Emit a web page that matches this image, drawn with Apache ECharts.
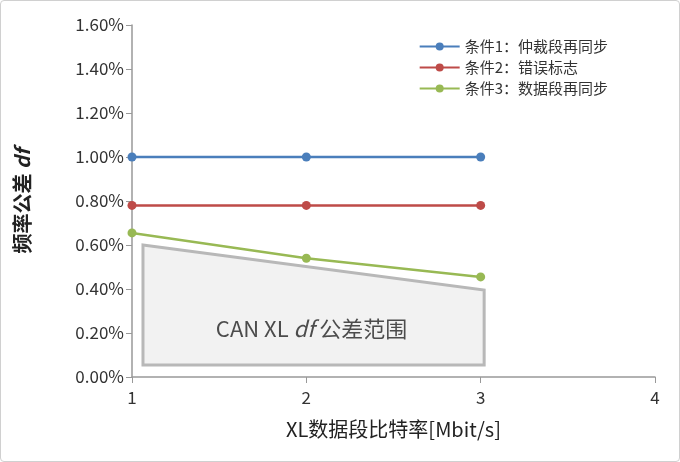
<!DOCTYPE html>
<html><head><meta charset="utf-8">
<script src="https://cdn.jsdelivr.net/npm/echarts@6/dist/echarts.min.js"></script>
<style>html,body{margin:0;padding:0;background:#fff}#c{width:678px;height:460px;border:1px solid #d0d0d0;border-radius:4px}</style>
</head><body><div id="c"></div>
<script>
// 数据
const xRates = [1, 2, 3];
const arbSync = [1.00, 1.00, 1.00];     // 条件1
const errFlag = [0.78, 0.78, 0.78];     // 条件2
const dataSync = [0.655, 0.54, 0.455];  // 条件3
const tolX = [1.063, 3.02, 3.02, 1.063];
const tolY = [0.60, 0.395, 0.055, 0.055];
const font = '"Noto Sans CJK SC", "Noto Sans", sans-serif';

const mk = (name, color, vals) => ({
    name, type: 'line', data: xRates.map((x, i) => [x, vals[i]]),
    symbol: 'circle', symbolSize: 9, z: 5,
    itemStyle: { color }, lineStyle: { color, width: 2.5 }
});

let chart = echarts.init(document.getElementById('c'));
chart.setOption({
    animation: false,
    textStyle: { fontFamily: font },
    grid: { left: 131, right: 24, top: 24, bottom: 84 },
    legend: {
        right: 66, top: 33, orient: 'vertical', itemGap: 6, itemWidth: 40, itemHeight: 10,
        textStyle: { fontSize: 15, color: '#333' },
        data: ['条件1：仲裁段再同步', '条件2：错误标志', '条件3：数据段再同步']
    },
    xAxis: {
        type: 'value', min: 1, max: 4, interval: 1,
        name: 'XL数据段比特率[Mbit/s]', nameLocation: 'middle', nameGap: 42,
        nameTextStyle: { fontSize: 20, color: '#222' },
        axisLine: { lineStyle: { color: '#999', width: 1.5 } },
        axisTick: { show: true, length: 6, lineStyle: { color: '#999' } },
        axisLabel: { fontSize: 17, color: '#333', margin: 12 },
        splitLine: { show: false }
    },
    yAxis: {
        type: 'value', min: 0, max: 1.6, interval: 0.2,
        name: '{a|频率公差 }{b|df}', nameLocation: 'middle', nameGap: 100,
        nameTextStyle: { rich: {
            a: { fontSize: 20, fontWeight: 'bold', color: '#222', fontFamily: font },
            b: { fontSize: 20, fontWeight: 'bold', fontStyle: 'italic', color: '#222', fontFamily: font }
        } },
        axisLine: { show: true, lineStyle: { color: '#999', width: 1.5 } },
        axisTick: { show: true, length: 6, lineStyle: { color: '#999' } },
        axisLabel: { fontSize: 17, color: '#333', formatter: v => v.toFixed(2) + '%' },
        splitLine: { show: false }
    },
    series: [
        {
            type: 'custom', z: 1, silent: true,
            data: [0],
            renderItem: (params, api) => ({
                type: 'polygon',
                shape: { points: tolX.map((x, i) => api.coord([x, tolY[i]])) },
                style: { fill: '#f2f2f2', stroke: '#b8b8b8', lineWidth: 3 }
            })
        },
        {
            type: 'scatter', data: [[2.03, 0.22]], symbolSize: 0, silent: true,
            label: {
                show: true, position: 'inside', formatter: '{a|CAN XL }{b|df}{a| 公差范围}',
                rich: {
                    a: { fontSize: 22, color: '#222', fontFamily: font },
                    b: { fontSize: 22, color: '#222', fontStyle: 'italic', fontFamily: font }
                }
            }
        },
        mk('条件1：仲裁段再同步', '#4a7ebb', arbSync),
        mk('条件2：错误标志', '#be4b48', errFlag),
        mk('条件3：数据段再同步', '#98b954', dataSync)
    ]
});
</script></body></html>
